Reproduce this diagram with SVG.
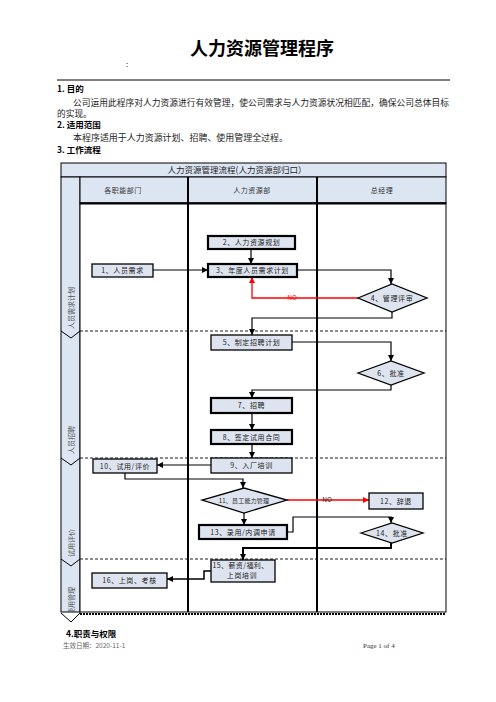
<svg xmlns="http://www.w3.org/2000/svg" width="496" height="702" viewBox="0 0 496 702">
<style>
text{font-family:"Noto Sans CJK SC","Liberation Sans",sans-serif;fill:#222}
.h{font-weight:bold;font-size:8.5px;fill:#000}
.p{font-size:8.7px;fill:#222}
.n{font-size:7px;text-anchor:middle;fill:#222;letter-spacing:0.6px}
.hd{font-size:7px;text-anchor:middle;fill:#333;letter-spacing:0.5px}
.ln{font-size:7px;text-anchor:middle;fill:#555}
.bx{fill:#dde4ef;stroke:#000;stroke-width:1.3}
.bk{fill:#dde4ef;stroke:#000;stroke-width:2.2}
.c{fill:none;stroke:#000;stroke-width:1.2}
.r{fill:none;stroke:#f00;stroke-width:1.3}
.d{fill:none;stroke:#000;stroke-width:0.9;stroke-dasharray:3 2}
</style>
<defs>
<marker id="ah" viewBox="0 0 10 10" refX="10" refY="5" markerWidth="6" markerHeight="6" orient="auto" markerUnits="userSpaceOnUse"><path d="M0,0 L10,5 L0,10 z" fill="#000"/></marker>
<marker id="ar" viewBox="0 0 10 10" refX="10" refY="5" markerWidth="6" markerHeight="6" orient="auto" markerUnits="userSpaceOnUse"><path d="M0,0 L10,5 L0,10 z" fill="#f00"/></marker>
<clipPath id="lc"><rect x="61" y="204" width="19" height="408"/></clipPath>
</defs>
<rect width="496" height="702" fill="#fff"/>
<g id="header">
<text x="262" y="55" style="font-size:18px;font-weight:bold;fill:#000" text-anchor="middle">人力资源管理程序</text>
<text x="126" y="67" style="font-size:8px">:</text>
<line x1="57" y1="80" x2="450" y2="80" stroke="#000" stroke-width="1"/>
<text class="h" x="57" y="92">1. 目的</text>
<text class="p" x="73" y="105.5" textLength="376" lengthAdjust="spacingAndGlyphs">公司运用此程序对人力资源进行有效管理，使公司需求与人力资源状况相匹配，确保公司总体目标</text>
<text class="p" x="57" y="116.5">的实现。</text>
<text class="h" x="57" y="128">2. 适用范围</text>
<text class="p" x="73" y="140.5" textLength="215" lengthAdjust="spacingAndGlyphs">本程序适用于人力资源计划、招聘、使用管理全过程。</text>
<text class="h" x="57" y="153">3. 工作流程</text>
</g>
<g id="frame">
<rect x="61" y="163" width="385" height="14" fill="#dce6f2" stroke="#000" stroke-width="1"/>
<text x="237" y="173" style="font-size:8.5px;fill:#222" text-anchor="middle">人力资源管理流程(人力资源部归口）</text>
<rect x="61" y="177" width="19" height="435" fill="#dce6f2" stroke="#000" stroke-width="1"/>
<rect x="80" y="177" width="366" height="26" fill="#dce6f2" stroke="#000" stroke-width="1"/>
<rect x="80" y="203" width="366" height="409" fill="#fff" stroke="#000" stroke-width="1"/>
<line x1="80" y1="203.5" x2="446" y2="203.5" stroke="#000" stroke-width="2"/>
<line x1="188" y1="177" x2="188" y2="612" stroke="#000" stroke-width="2"/>
<line x1="317" y1="177" x2="317" y2="612" stroke="#000" stroke-width="2"/>
<text class="hd" x="123" y="192.5">各职能部门</text>
<text class="hd" x="252" y="192.5">人力资源部</text>
<text class="hd" x="382" y="192.5">总经理</text>
<line class="d" x1="80" y1="331" x2="446" y2="331"/>
<line class="d" x1="80" y1="458" x2="446" y2="458"/>
<line class="d" x1="80" y1="559" x2="446" y2="559"/>
<line x1="80" y1="614" x2="446" y2="614" stroke="#000" stroke-width="2" stroke-dasharray="2 1"/>
<path d="M61,331 L71,338 L80,331" fill="none" stroke="#000" stroke-width="1"/>
<path d="M61,458 L71,465 L80,458" fill="none" stroke="#000" stroke-width="1"/>
<path d="M61,559 L71,566 L80,559" fill="none" stroke="#000" stroke-width="1"/>
<path d="M61,613 L71,622 L80,613" fill="#fff" stroke="#000" stroke-width="1"/>
<g clip-path="url(#lc)">
<text class="ln" transform="translate(73.5,308) rotate(-90)">人员需求计划</text>
<text class="ln" transform="translate(73.5,440) rotate(-90)">人员招聘</text>
<text class="ln" transform="translate(73.5,543) rotate(-90)">试用评价</text>
<text class="ln" transform="translate(73.5,601) rotate(-90)">使用管理</text>
</g>
</g>
<g id="connectors">
<path class="c" d="M153,270 H208" marker-end="url(#ah)"/>
<path class="c" d="M251,249 V264" marker-end="url(#ah)"/>
<path class="c" d="M297,270 H391 V284" marker-end="url(#ah)"/>
<path class="r" d="M358,298 H252 V277" marker-end="url(#ar)"/>
<text x="292" y="300" style="font-size:6.5px;fill:#f00" text-anchor="middle">NO</text>
<path class="c" d="M392,312 V318 H252 V335" marker-end="url(#ah)"/>
<path class="c" d="M292,342 H391 V361" marker-end="url(#ah)"/>
<path class="c" d="M391,385 V390 H252 V398" marker-end="url(#ah)"/>
<path class="c" d="M252,413 V430" marker-end="url(#ah)"/>
<path class="c" d="M252,444 V458" marker-end="url(#ah)"/>
<path class="c" d="M211,465 H157" marker-end="url(#ah)"/>
<path class="c" d="M125,473 V479 H243 V488" marker-end="url(#ah)"/>
<path class="r" d="M287,500 H369" marker-end="url(#ar)"/>
<text x="327" y="502" style="font-size:6.5px;fill:#222" text-anchor="middle">NO</text>
<path class="c" d="M244,513 V525" marker-end="url(#ah)"/>
<path class="c" d="M287,532 H293 V517 H391 V523" marker-end="url(#ah)"/>
<path class="c" d="M391,543 V548 H243 V560" style="stroke-width:2" marker-end="url(#ah)"/>
<path class="c" d="M211,571 H204 V579 H167" style="stroke-width:1.5" marker-end="url(#ah)"/>
</g>
<g id="n1"><rect class="bx" x="92" y="264" width="61" height="13"/><text class="n" x="122.5" y="273">1、人员需求</text></g>
<g id="n2"><rect class="bk" x="208" y="236" width="87" height="13"/><text class="n" x="251.5" y="245">2、人力资源规划</text></g>
<g id="n3"><rect class="bk" x="208" y="264" width="89" height="13"/><text class="n" x="252.5" y="273">3、年度人员需求计划</text></g>
<g id="n4"><path class="bx" d="M358,298 L392,284 L427,298 L392,312 Z"/><text class="n" x="392" y="300.5">4、管理评审</text></g>
<g id="n5"><rect class="bx" x="211" y="335" width="81" height="15"/><text class="n" x="251.5" y="345">5、制定招聘计划</text></g>
<g id="n6"><path class="bx" d="M358,373 L391,361 L424,373 L391,385 Z"/><text class="n" x="391" y="375.5">6、批准</text></g>
<g id="n7"><rect class="bk" x="211" y="398" width="81" height="15"/><text class="n" x="251.5" y="408">7、招聘</text></g>
<g id="n8"><rect class="bk" x="211" y="430" width="81" height="14"/><text class="n" x="251.5" y="439.5">8、签定试用合同</text></g>
<g id="n9"><rect class="bx" x="211" y="458" width="81" height="15"/><text class="n" x="251.5" y="468">9、入厂培训</text></g>
<g id="n10"><rect class="bx" x="93" y="459" width="64" height="14"/><text class="n" x="125" y="468.5">10、试用/评价</text></g>
<g id="n11"><path class="bx" d="M202,500 L244,488 L287,500 L244,513 Z"/><text class="n" x="244" y="502.5" style="font-size:6px;letter-spacing:0.2px">11、员工能力管理</text></g>
<g id="n12"><rect class="bx" x="369" y="493" width="54" height="16"/><text class="n" x="396" y="503.5">12、辞退</text></g>
<g id="n13"><rect class="bk" x="199" y="525" width="88" height="14"/><text class="n" x="243" y="534.5">13、录用/内调申请</text></g>
<g id="n14"><path class="bx" d="M361,533 L392,523 L423,533 L392,543 Z"/><text class="n" x="392" y="535.5">14、批准</text></g>
<g id="n15"><rect class="bx" x="211" y="560" width="64" height="22"/><text x="212.5" y="567.5" style="font-size:7px;fill:#222;letter-spacing:0.4px">15、薪资/福利、</text><text class="n" x="242" y="578">上岗培训</text></g>
<g id="n16"><rect class="bx" x="92" y="573" width="75" height="15"/><text class="n" x="129.5" y="583">16、上岗、考核</text></g>
<g id="footer">
<text x="66" y="637" style="font-size:8.5px;font-weight:bold;fill:#000">4.职责与权限</text>
<text x="63" y="648" style="font-size:6.5px;fill:#666">生效日期：2020-11-1</text>
<text x="363" y="648" style="font-size:7px;fill:#333;font-family:'Liberation Serif',serif">Page  1  of  4</text>
</g>
</svg>
